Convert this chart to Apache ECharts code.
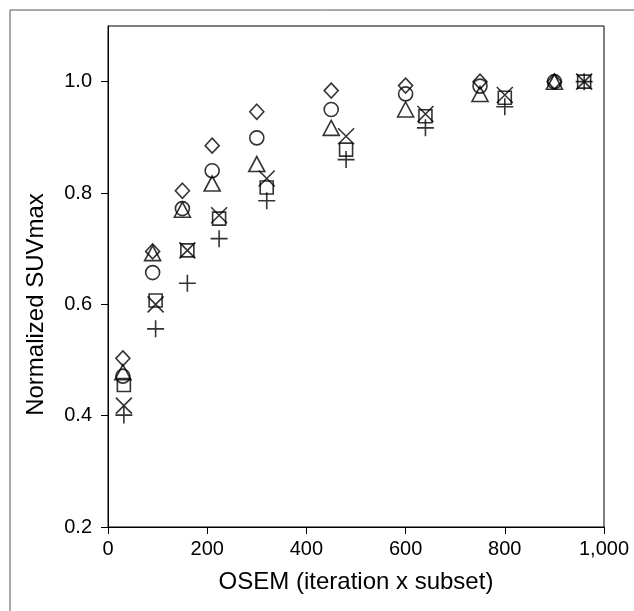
<!DOCTYPE html>
<html><head><meta charset="utf-8">
<script src="https://cdn.jsdelivr.net/npm/echarts@6/dist/echarts.min.js"></script>
<style>html,body{margin:0;padding:0;background:#fff}#c{width:634px;height:611px}</style>
</head><body><div id="c"></div>
<script>
// x positions
const xA = [30, 90, 150, 210, 300, 450, 600, 750, 900];
const xB = [32, 96, 160, 224, 320, 480, 640, 800, 960];
// series values
const diamondY = [0.503, 0.695, 0.804, 0.885, 0.946, 0.984, 0.993, 1.0, 1.0];
const circleY = [0.471, 0.657, 0.772, 0.840, 0.899, 0.950, 0.978, 0.992, 1.0];
const triangleY = [0.478, 0.692, 0.770, 0.817, 0.852, 0.917, 0.950, 0.978, 1.0];
const squareY = [0.455, 0.607, 0.697, 0.754, 0.810, 0.878, 0.938, 0.971, 1.0];
const crossY = [0.418, 0.600, 0.697, 0.760, 0.826, 0.902, 0.942, 0.976, 1.0];
const plusY = [0.401, 0.556, 0.638, 0.718, 0.786, 0.860, 0.917, 0.955, 1.0];
const xTicks = [0, 200, 400, 600, 800, 1000];
const yTicks = [0.2, 0.4, 0.6, 0.8, 1.0];

const font = '"Liberation Sans", Arial, sans-serif';
function pts(xs, ys) { return xs.map((x, i) => [x, ys[i]]); }
function ser(name, xs, ys, symbol, size) {
  return {
    name, type: 'scatter', data: pts(xs, ys), symbol, symbolSize: size,
    itemStyle: { color: 'transparent', borderColor: '#000', borderWidth: 1.6 },
    emphasis: { disabled: true }, z: 3
  };
}
const chart = echarts.init(document.getElementById('c'), null, { renderer: 'canvas' });
chart.setOption({
  animation: false,
  backgroundColor: '#fff',
  graphic: [{ type: 'rect', shape: { x: 10, y: 10, width: 700, height: 700 },
    style: { fill: 'none', stroke: '#555', lineWidth: 1 }, silent: true, z: -1 }],
  grid: { left: 108, right: 30, top: 26, bottom: 84, show: true, borderColor: '#000', borderWidth: 1, backgroundColor: 'transparent' },
  xAxis: {
    type: 'value', min: 0, max: 1000, interval: 200,
    name: 'OSEM (iteration x subset)', nameLocation: 'middle', nameGap: 43,
    nameTextStyle: { fontFamily: font, fontSize: 24, color: '#000' },
    axisLine: { show: true, lineStyle: { color: '#000', width: 1 } },
    axisTick: { show: true, inside: false, length: 7, lineStyle: { color: '#000' }, customValues: xTicks },
    axisLabel: { customValues: xTicks, fontFamily: font, fontSize: 20, color: '#000', margin: 12,
      formatter: v => v.toLocaleString('en-US') },
    splitLine: { show: false }
  },
  yAxis: {
    type: 'value', min: 0.2, max: 1.1,
    name: 'Normalized SUVmax', nameLocation: 'middle', nameGap: 60, nameRotate: 90,
    nameTextStyle: { fontFamily: font, fontSize: 24, color: '#000', padding: [0, 56, 0, 0] },
    axisLine: { show: true, lineStyle: { color: '#000', width: 1 } },
    axisTick: { show: true, inside: false, length: 7, lineStyle: { color: '#000' }, customValues: yTicks },
    axisLabel: { customValues: yTicks, fontFamily: font, fontSize: 20, color: '#000', margin: 16,
      formatter: v => v.toFixed(1) },
    splitLine: { show: false }
  },
  series: [
    ser('diamond', xA, diamondY, 'diamond', [14, 15]),
    ser('circle', xA, circleY, 'circle', 14),
    ser('triangle', xA, triangleY, 'triangle', [16, 15]),
    ser('square', xB, squareY, 'rect', 13),
    ser('cross', xB, crossY, 'path://M0,0L10,10M10,0L0,10', 16),
    ser('plus', xB, plusY, 'path://M5,0L5,10M0,5L10,5', 17)
  ]
});
</script></body></html>
